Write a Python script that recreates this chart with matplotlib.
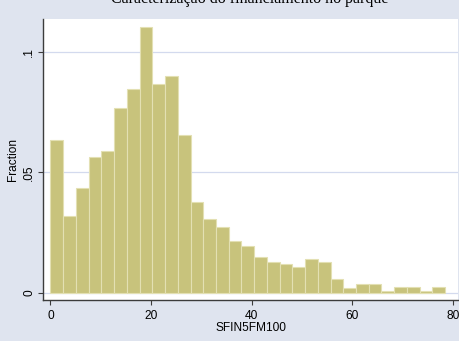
import matplotlib
matplotlib.use("Agg")
import matplotlib.pyplot as plt

# =====================
# DATA
# =====================
BIN_START = 0.0
BIN_WIDTH = 2.53
fractions = [0.0634, 0.0318, 0.0436, 0.0564, 0.0587, 0.0767, 0.0847, 0.1106,
             0.0867, 0.0899, 0.0655, 0.0376, 0.0304, 0.0271, 0.0214, 0.0193,
             0.0146, 0.0128, 0.0120, 0.0106, 0.0139, 0.0128, 0.0055, 0.0020,
             0.0035, 0.0035, 0.0006, 0.0022, 0.0022, 0.0006, 0.0022]
x_ticks = [0, 20, 40, 60, 80]
y_ticks = [0, 0.05, 0.1]
y_tick_labels = ["0", ".05", ".1"]
x_title = "SFIN5FM100"
y_title = "Fraction"
title = "Caracterização do financiamento no parque"

# =====================
# STYLE
# =====================
BG = "#dfe4ef"
BAR_FILL = "#c8c37c"
BAR_EDGE = "#e3e0b3"
GRID = "#d3daee"
AXIS = "#3c3c3c"
plt.rcParams["font.family"] = ["Liberation Sans", "DejaVu Sans"]

W, H = 459, 341
fig = plt.figure(figsize=(W / 100, H / 100), dpi=100, facecolor=BG)
ax = fig.add_axes([43 / W, (H - 300) / H, 415 / W, 281 / H])
ax.set_facecolor("white")

edges = [BIN_START + i * BIN_WIDTH for i in range(len(fractions))]
ax.bar(edges, fractions, width=BIN_WIDTH, align="edge",
       color=BAR_FILL, edgecolor=BAR_EDGE, linewidth=0.8, zorder=3)

ax.set_xlim(-1.49, 81.0)
ax.set_ylim(-0.0031, 0.1138)

ax.set_xticks(x_ticks)
ax.set_yticks(y_ticks)
ax.set_yticklabels(y_tick_labels, rotation=90, va="center")
ax.tick_params(axis="both", direction="out", length=3.5, width=0.8,
               color=AXIS, labelsize=8.6, labelcolor="black")
ax.tick_params(axis="y", pad=2)
ax.tick_params(axis="x", pad=4)

ax.yaxis.grid(True, color=GRID, linewidth=0.9, zorder=0)
ax.set_axisbelow(True)

for side in ["top", "right"]:
    ax.spines[side].set_visible(False)
for side in ["left", "bottom"]:
    ax.spines[side].set_color(AXIS)
    ax.spines[side].set_linewidth(1.0)

ax.set_xlabel(x_title, fontsize=8.6, labelpad=0)
ax.set_ylabel(y_title, fontsize=8.6, labelpad=3)

# title sits mostly above the image edge, only its bottom shows
fig.text(250 / W, 1 - 3 / H, title, ha="center", va="baseline",
         fontsize=11.5, family=["Liberation Serif", "DejaVu Serif"])

fig.savefig("out.png", dpi=100, facecolor=BG)
